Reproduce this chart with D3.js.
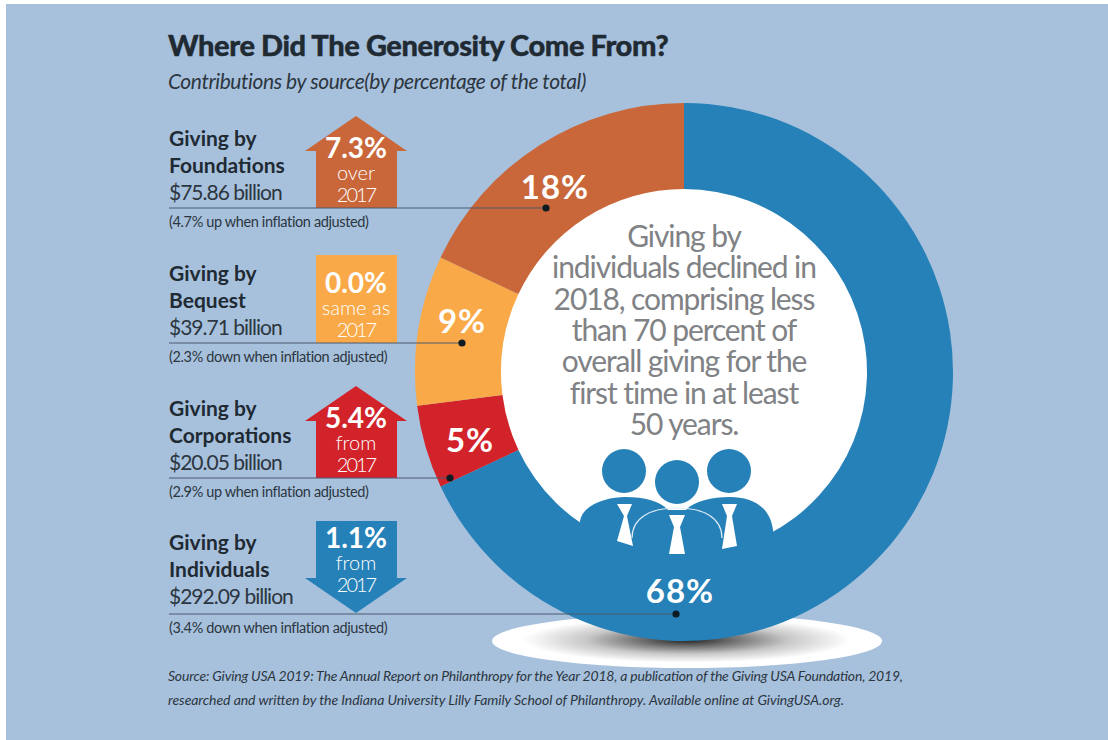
<!DOCTYPE html>
<html>
<head>
<meta charset="utf-8">
<script src="https://cdnjs.cloudflare.com/ajax/libs/d3/7.8.5/d3.min.js"></script>
<style>
html,body{margin:0;padding:0;background:#fff;}
svg{display:block;}
text{font-family:Lato,"Open Sans",sans-serif;}
</style>
</head>
<body>
<svg id="chart" width="1108" height="740"></svg>
<script>
// Contributions by source, percent of the 2018 total
const ringSources = ["Individuals", "Corporations", "Bequest", "Foundations"];
const ringShares = [68, 5, 9, 18];
const ringColors = ["#2581b8", "#d2232a", "#f9a947", "#c9673a"];

// Left-hand panel, listed top to bottom
const panelSources = ["Foundations", "Bequest", "Corporations", "Individuals"];
const panelAmounts = ["$75.86 billion", "$39.71 billion", "$20.05 billion", "$292.09 billion"];
const panelChanges = ["7.3%", "0.0%", "5.4%", "1.1%"];
const panelDirections = ["up", "flat", "up", "down"];
const panelNotes = [["over", "2017"], ["same as", "2017"], ["from", "2017"], ["from", "2017"]];
const panelInflation = [
  "(4.7% up when inflation adjusted)",
  "(2.3% down when inflation adjusted)",
  "(2.9% up when inflation adjusted)",
  "(3.4% down when inflation adjusted)"
];
const panelColors = ["#c9673a", "#f9a947", "#d2232a", "#2581b8"];
const panelRules = [208, 343, 478, 614];
const panelDots = [546, 462, 450, 676];

const centerLines = [
  "Giving by", "individuals declined in", "2018, comprising less",
  "than 70 percent of", "overall giving for the", "first time in at least", "50 years."
];
const sourceLines = [
  "Source: Giving USA 2019: The Annual Report on Philanthropy for the Year 2018, a publication of the Giving USA Foundation, 2019,",
  "researched and written by the Indiana University Lilly Family School of Philanthropy. Available online at GivingUSA.org."
];

const svg = d3.select("#chart");
const ink = "#1f2a33";
const cx = 684, cy = 372, outerR = 269, innerR = 183;

svg.append("rect").attr("x", 6).attr("y", 4).attr("width", 1102).attr("height", 736).attr("fill", "#a7c1dd");

// Soft ground shadow beneath the ring
const defs = svg.append("defs");
const shade = defs.append("radialGradient").attr("id", "groundShade").attr("cx", "50%").attr("cy", "48%").attr("r", "50%");
shade.append("stop").attr("offset", "0%").attr("stop-color", "#222");
shade.append("stop").attr("offset", "24%").attr("stop-color", "#707070");
shade.append("stop").attr("offset", "52%").attr("stop-color", "#c8c8c8");
shade.append("stop").attr("offset", "84%").attr("stop-color", "#ffffff");
svg.append("ellipse").attr("cx", 687).attr("cy", 641).attr("rx", 195).attr("ry", 27).attr("fill", "url(#groundShade)");

// White disc, then the ring
svg.append("circle").attr("cx", cx).attr("cy", cy).attr("r", innerR + 2).attr("fill", "#fff");

const pie = d3.pie().sort(null).value(d => d);
const arc = d3.arc().innerRadius(innerR).outerRadius(outerR);
const ring = svg.append("g").attr("transform", `translate(${cx},${cy})`);
ring.selectAll("path").data(pie(ringShares)).join("path")
  .attr("d", arc).attr("fill", (d, i) => ringColors[i]);

// Percent labels sit at hand-tuned spots inside each band
const ringLabelPos = [[680, 591], [470, 440], [462, 321], [555, 187]];
svg.selectAll("text.share").data(ringShares).join("text").attr("class", "share")
  .attr("x", (d, i) => ringLabelPos[i][0]).attr("y", (d, i) => ringLabelPos[i][1])
  .attr("dy", "0.36em").attr("text-anchor", "middle")
  .attr("font-size", 33).attr("font-weight", 700).attr("letter-spacing", 1).attr("fill", "#fff")
  .text(d => d + "%");

// Group-of-three icon, merging into the lower band
const icon = svg.append("g");
const blue = ringColors[0];
icon.append("path").attr("fill", blue)
  .attr("d", "M580,521 C583,503 610,497 625,497 C645,497 660,501 668,510 L686,510 C694,501 712,497 730,497 C750,497 770,505 773,530 L773,560 L580,560 Z");
icon.append("circle").attr("cx", 677).attr("cy", 482).attr("r", 24.5).attr("fill", "#fff");
[[624, 471], [729, 471], [677, 482]].forEach(([x, y]) =>
  icon.append("circle").attr("cx", x).attr("cy", y).attr("r", 22).attr("fill", blue));
icon.append("path").attr("fill", "none").attr("stroke", "#dcebf5").attr("stroke-width", 1.2)
  .attr("d", "M632,538 C632,518 650,508 677,508 C704,508 722,518 722,538");
icon.append("g").attr("fill", "#fff").selectAll("path")
  .data([
    "M617,504 L632,504 L627,516 L633,546 L617,541 L624,516 Z",
    "M669,515 L685,515 L680,527 L685,554 L669,554 L674,527 Z",
    "M722,504 L737,504 L732,516 L737,546 L722,549 L727,516 Z"
  ]).join("path").attr("d", d => d);

// Centre statement
svg.append("g").selectAll("text").data(centerLines).join("text")
  .attr("x", 684).attr("y", (d, i) => 247 + i * 31.3)
  .attr("text-anchor", "middle").attr("font-size", 30).attr("font-weight", 400)
  .attr("letter-spacing", -1.1).attr("fill", "#808285")
  .text(d => d);

// Title block
svg.append("text").attr("x", 168).attr("y", 56).attr("font-size", 29).attr("font-weight", 900)
  .attr("fill", ink).attr("stroke", ink).attr("stroke-width", 0.4).attr("letter-spacing", -0.4)
  .text("Where Did The Generosity Come From?");
svg.append("text").attr("x", 168).attr("y", 89).attr("font-size", 21).attr("font-style", "italic").attr("font-weight", 400)
  .attr("letter-spacing", -0.42).attr("fill", "#2c3640").text("Contributions by source(by percentage of the total)");

// One row per source: name, amount, badge, rule, footnote
const rows = svg.selectAll("g.row").data(panelSources).join("g").attr("class", "row");

function badgePath(dir, base) {
  const l = 316, r = 397, wl = 305, wr = 407, mid = 356;
  if (dir === "up") {
    return `M${mid},${base - 92} L${wr},${base - 57} L${r},${base - 57} L${r},${base} L${l},${base} L${l},${base - 57} L${wl},${base - 57} Z`;
  }
  if (dir === "down") {
    return `M${l},${base - 93} L${r},${base - 93} L${r},${base - 36} L${wr},${base - 36} L${mid},${base - 1} L${wl},${base - 36} L${l},${base - 36} Z`;
  }
  return `M${l},${base - 88} L${r},${base - 88} L${r},${base} L${l},${base} Z`;
}

rows.each(function (name, i) {
  const g = d3.select(this);
  const base = panelRules[i];
  const down = panelDirections[i] === "down";
  const lift = down ? 2 : 0;
  g.append("path").attr("d", badgePath(panelDirections[i], base)).attr("fill", panelColors[i]);
  g.append("line").attr("x1", 169).attr("x2", panelDots[i]).attr("y1", base).attr("y2", base)
    .attr("stroke", "#4b5a6e").attr("stroke-width", 1);
  g.append("circle").attr("cx", panelDots[i]).attr("cy", base).attr("r", 3.6).attr("fill", "#0e1a22");

  g.append("text").attr("x", 169).attr("y", base - 62 - lift).attr("font-size", 21).attr("font-weight", 700)
    .attr("fill", ink).text("Giving by");
  g.append("text").attr("x", 169).attr("y", base - 35 - lift).attr("font-size", 21).attr("font-weight", 700)
    .attr("fill", ink).text(name);
  g.append("text").attr("x", 169).attr("y", base - 8 - lift).attr("font-size", 21).attr("font-weight", 400)
    .attr("letter-spacing", -1).attr("fill", "#2c3640").text(panelAmounts[i]);
  g.append("text").attr("x", 169).attr("y", base + 19).attr("font-size", 14.5).attr("letter-spacing", -0.37)
    .attr("fill", "#2c3640").text(panelInflation[i]);

  const shift = down ? -16 : 0;
  g.append("text").attr("x", 356).attr("y", base - 50 + shift).attr("text-anchor", "middle")
    .attr("font-size", 28).attr("font-weight", 700).attr("fill", "#fff").text(panelChanges[i]);
  panelNotes[i].forEach((t, k) => {
    g.append("text").attr("x", 356).attr("y", base - 28 + k * 22 + shift).attr("text-anchor", "middle")
      .attr("font-size", 20).attr("font-weight", 300).attr("fill", "#fff")
      .attr("letter-spacing", /\d/.test(t) ? -2 : 0).text(t);
  });
});

// Source note, each line fitted to its own measure
const sourceWidths = [735, 676];
svg.append("g").selectAll("text").data(sourceLines).join("text")
  .attr("x", 168).attr("y", (d, i) => 681 + i * 24)
  .attr("font-size", 14).attr("font-style", "italic").attr("fill", "#2c3640")
  .attr("textLength", (d, i) => sourceWidths[i]).attr("lengthAdjust", "spacing")
  .text(d => d);
</script>
</body>
</html>
